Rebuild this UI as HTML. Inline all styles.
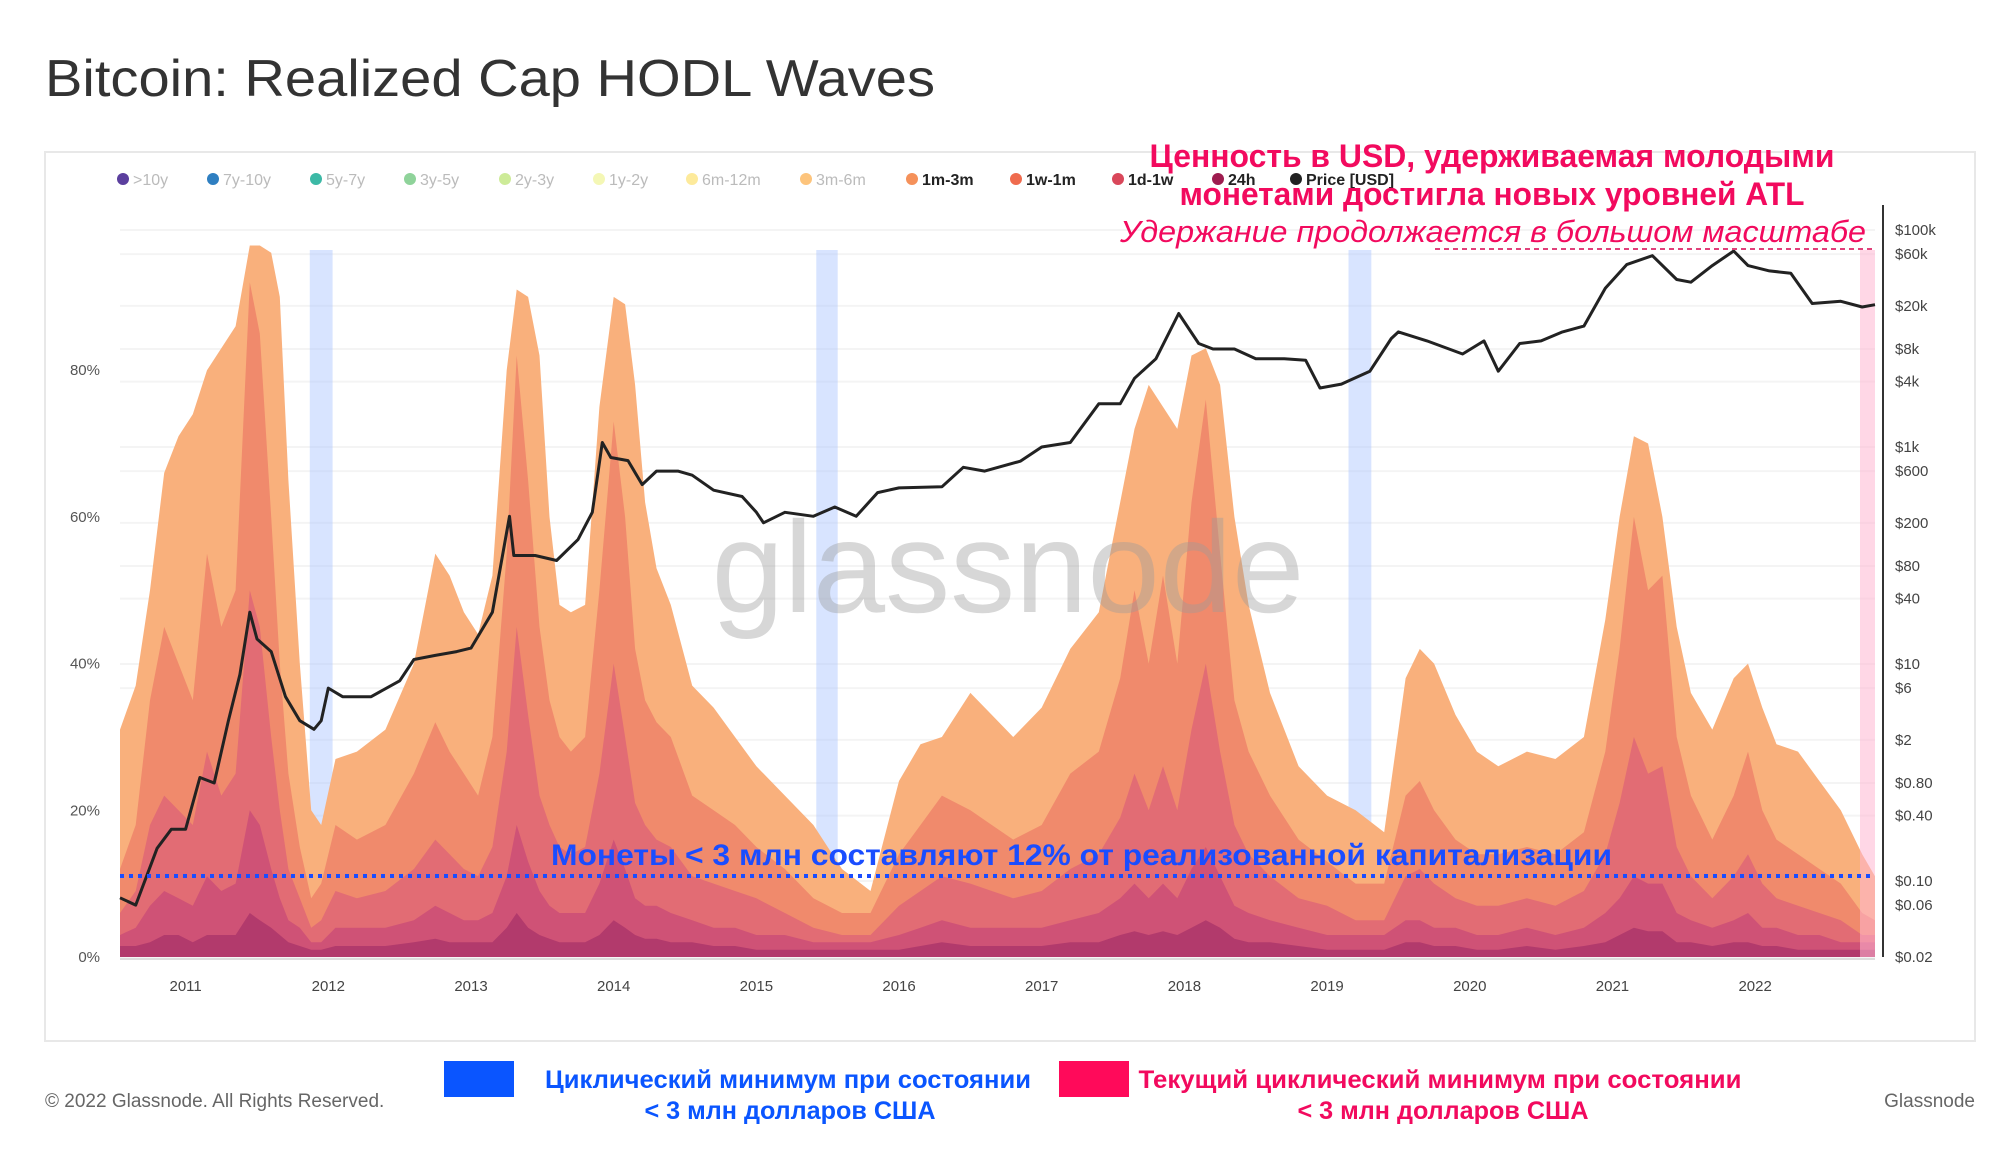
<!DOCTYPE html>
<html><head><meta charset="utf-8">
<style>
html,body{margin:0;padding:0;background:#fff;}
svg{display:block;font-family:"Liberation Sans","Noto Sans CJK SC",sans-serif;}
</style></head>
<body>
<svg id="chart" width="2000" height="1153" viewBox="0 0 2000 1153" xmlns="http://www.w3.org/2000/svg">
<rect x="0" y="0" width="2000" height="1153" fill="#fff"/>
<text x="45" y="96" font-size="52" fill="#333" textLength="890" lengthAdjust="spacingAndGlyphs">Bitcoin: Realized Cap HODL Waves</text>
<rect x="45" y="152" width="1930" height="889" fill="none" stroke="#e8e8e8" stroke-width="2"/>
<g id="grid"></g>
<g id="bands"></g>
<g id="areas"></g>
<text x="1008" y="612" font-size="130" fill="#9a9a9a" fill-opacity="0.4" text-anchor="middle">glassnode</text>
<g id="pband"></g>
<g id="priceg"></g>
<g id="axes"></g>
<g id="legend"></g>
<line x1="120" y1="876" x2="1875" y2="876" stroke="#1a4dff" stroke-width="4" stroke-dasharray="4,5"/>
<text x="551" y="865" font-size="30" font-weight="bold" fill="#1a4dff" textLength="1061" lengthAdjust="spacingAndGlyphs">Монеты &lt; 3 млн составляют 12% от реализованной капитализации</text>
<text x="1492" y="167" font-size="32" font-weight="bold" fill="#f20a5e" text-anchor="middle" textLength="685" lengthAdjust="spacingAndGlyphs">Ценность в USD, удерживаемая молодыми</text>
<text x="1492" y="205" font-size="32" font-weight="bold" fill="#f20a5e" text-anchor="middle" textLength="625" lengthAdjust="spacingAndGlyphs">монетами достигла новых уровней ATL</text>
<text x="1120" y="242" font-size="31" font-style="italic" fill="#f20a5e" textLength="746" lengthAdjust="spacingAndGlyphs">Удержание продолжается в большом масштабе</text>
<line x1="1435" y1="249" x2="1872" y2="249" stroke="#e0407a" stroke-width="2" stroke-dasharray="5,4"/>
<text x="45" y="1107" font-size="19" fill="#666">© 2022 Glassnode. All Rights Reserved.</text>
<text x="1975" y="1107" font-size="19" fill="#666" text-anchor="end">Glassnode</text>
<rect x="444" y="1061" width="70" height="36" fill="#0a55ff"/>
<text x="788" y="1088" font-size="25" font-weight="bold" fill="#0a55ff" text-anchor="middle" textLength="486" lengthAdjust="spacingAndGlyphs">Циклический минимум при состоянии</text>
<text x="790" y="1119" font-size="25" font-weight="bold" fill="#0a55ff" text-anchor="middle" textLength="291" lengthAdjust="spacingAndGlyphs">&lt; 3 млн долларов США</text>
<rect x="1059" y="1061" width="70" height="36" fill="#ff0a5a"/>
<text x="1440" y="1088" font-size="25" font-weight="bold" fill="#f20a5e" text-anchor="middle" textLength="603" lengthAdjust="spacingAndGlyphs">Текущий циклический минимум при состоянии</text>
<text x="1443" y="1119" font-size="25" font-weight="bold" fill="#f20a5e" text-anchor="middle" textLength="291" lengthAdjust="spacingAndGlyphs">&lt; 3 млн долларов США</text>
</svg>
<script>
const years = [2010.54,2010.65,2010.75,2010.85,2010.95,2011.05,2011.15,2011.25,2011.35,2011.45,
2011.52,2011.6,2011.66,2011.72,2011.8,2011.88,2011.95,2012.05,2012.2,2012.4,
2012.6,2012.75,2012.85,2012.95,2013.05,2013.15,2013.25,2013.32,2013.4,2013.48,
2013.55,2013.62,2013.7,2013.8,2013.9,2014.0,2014.08,2014.15,2014.22,2014.3,
2014.4,2014.55,2014.7,2014.85,2015.0,2015.2,2015.4,2015.6,2015.8,2016.0,
2016.15,2016.3,2016.5,2016.65,2016.8,2017.0,2017.2,2017.4,2017.55,2017.65,
2017.75,2017.85,2017.95,2018.05,2018.15,2018.25,2018.35,2018.45,2018.6,2018.8,
2019.0,2019.2,2019.4,2019.55,2019.65,2019.75,2019.9,2020.05,2020.2,2020.4,
2020.6,2020.8,2020.95,2021.05,2021.15,2021.25,2021.35,2021.45,2021.55,2021.7,
2021.85,2021.95,2022.05,2022.15,2022.3,2022.45,2022.6,2022.75,2022.84];
const cum3m6m = [31,37,50,66,71,74,80,83,86,97, 97,96,90,65,40,20,18,27,28,31, 40,55,52,47,44,52,80,91,90,82,
60,48,47,48,75,90,89,78,62,53, 48,37,34,30,26,22,18,12,9,24, 29,30,36,33,30,34,42,47,62,72,
78,75,72,82,83,78,60,48,36,26, 22,20,17,38,42,40,33,28,26,28, 27,30,46,60,71,70,60,45,36,31, 38,40,34,29,28,24,20,14,11];
const cum1m3m = [12,18,35,45,40,35,55,45,50,92, 85,60,40,25,15,8,10,18,16,18, 25,32,28,25,22,30,55,82,65,45,
35,30,28,30,50,73,60,42,35,32, 30,22,20,18,15,12,8,6,6,14, 18,22,20,18,16,18,25,28,38,50,
40,52,40,62,76,55,35,28,22,16, 13,10,10,22,24,20,16,14,14,15, 14,17,28,42,60,50,52,30,22,16, 22,28,20,16,14,12,10,6,5];
const cum1w1m = [6,9,18,22,20,18,28,22,25,50, 45,30,20,12,8,4,5,9,8,9, 12,16,14,12,11,15,28,45,33,22,
18,15,14,15,25,40,30,21,18,16, 15,11,10,9,8,6,4,3,3,7, 9,11,10,9,8,9,12,14,19,25,
20,26,20,31,40,28,18,14,11,8, 7,5,5,11,12,10,8,7,7,8, 7,9,14,21,30,25,26,15,11,8, 11,14,10,8,7,6,5,3,3];
const cum1d1w = [3,4,7,9,8,7,11,9,10,20, 18,12,8,5,4,2,2,4,4,4, 5,7,6,5,5,6,11,18,13,9,
7,6,6,6,10,16,12,8,7,7, 6,5,4,4,3,3,2,2,2,3, 4,5,4,4,4,4,5,6,8,10,
8,10,8,12,15,11,7,6,5,4, 3,3,3,5,5,4,4,3,3,4, 3,4,6,8,11,10,10,6,5,4, 5,6,4,4,3,3,2,2,2];
const cum24h = [1.5,1.5,2,3,3,2,3,3,3,6, 5,4,3,2,1.5,1,1,1.5,1.5,1.5, 2,2.5,2,2,2,2,4,6,4,3,
2.5,2,2,2,3,5,4,3,2.5,2.5, 2,2,1.5,1.5,1,1,1,1,1,1, 1.5,2,1.5,1.5,1.5,1.5,2,2,3,3.5,
3,3.5,3,4,5,4,2.5,2,2,1.5, 1,1,1,2,2,1.5,1.5,1,1,1.5, 1,1.5,2,3,4,3.5,3.5,2,2,1.5, 2,2,1.5,1.5,1,1,1,1,1];
const priceYears = [2010.54,2010.65,2010.8,2010.9,2011.0,2011.1,2011.2,2011.3,2011.38,2011.45,2011.5,2011.6,2011.7,2011.8,2011.9,2011.95,2012.0,2012.1,2012.3,2012.5,2012.6,2012.75,2012.9,2013.0,2013.15,2013.27,2013.3,2013.45,2013.6,2013.75,2013.85,2013.92,2013.98,2014.1,2014.2,2014.3,2014.45,2014.55,2014.7,2014.9,2015.0,2015.05,2015.2,2015.4,2015.55,2015.7,2015.85,2016.0,2016.3,2016.45,2016.6,2016.85,2017.0,2017.2,2017.4,2017.55,2017.65,2017.8,2017.96,2018.1,2018.2,2018.35,2018.5,2018.7,2018.85,2018.95,2019.1,2019.3,2019.45,2019.5,2019.7,2019.95,2020.1,2020.2,2020.35,2020.5,2020.65,2020.8,2020.95,2021.1,2021.28,2021.45,2021.55,2021.7,2021.85,2021.95,2022.1,2022.25,2022.4,2022.6,2022.75,2022.84];
const priceUsd = [0.07,0.06,0.2,0.3,0.3,0.9,0.8,3,8,30,17,13,5,3,2.5,3,6,5,5,7,11,12,13,14,30,230,100,100,90,140,250,1100,800,750,450,600,600,550,400,350,250,200,250,230,280,230,380,420,430,650,600,740,1000,1100,2500,2500,4300,6500,17000,9000,8000,8000,6500,6500,6300,3500,3800,5000,10000,11500,9500,7200,9500,5000,9000,9500,11500,13000,29000,48000,58000,35000,33000,47000,64000,47000,42000,40000,21000,22000,19500,20500];
const yearTicks = [2011,2012,2013,2014,2015,2016,2017,2018,2019,2020,2021,2022];
const pctTicks = [0,20,40,60,80];
const priceTicks = [100000,60000,20000,8000,4000,1000,600,200,80,40,10,6,2,0.8,0.4,0.1,0.06,0.02];
const priceTickLabels = ["$100k","$60k","$20k","$8k","$4k","$1k","$600","$200","$80","$40","$10","$6","$2","$0.80","$0.40","$0.10","$0.06","$0.02"];
const blueBandStart = [2011.87,2015.42,2019.15];
const blueBandEnd = [2012.03,2015.57,2019.31];
const legendNames = [">10y","7y-10y","5y-7y","3y-5y","2y-3y","1y-2y","6m-12m","3m-6m","1m-3m","1w-1m","1d-1w","24h","Price [USD]"];
const legendColors = ["#5b3f9e","#2f7fc1","#3cb9a6","#8fd39a","#cdeb98","#f4f7b5","#fdea9b","#fdc47c","#f5915a","#ef6b4e","#d9475a","#9e1c4f","#222"];
const legendActive = [false,false,false,false,false,false,false,false,true,true,true,true,true];

const NS = "http://www.w3.org/2000/svg";
const X0 = 120, X1 = 1875, Y0 = 957;
const yrMin = 2010.54, yrMax = 2022.84;
function xs(y){ return X0 + (y - yrMin) / (yrMax - yrMin) * (X1 - X0); }
function ys(p){ return Y0 - p * 7.335; }
function yp(v){ return 230 + (5 - Math.log10(v)) * 108.5; }
function mk(tag, attrs, parent){ const e = document.createElementNS(NS, tag); for (const k in attrs) e.setAttribute(k, attrs[k]); parent.appendChild(e); return e; }

const grid = document.getElementById('grid');
priceTicks.forEach(v => {
  const l = mk('line', {x1: X0, x2: X1, y1: yp(v), y2: yp(v), stroke: '#f4f4f4', 'stroke-width': 2}, grid);
  
  
});

const bands = document.getElementById('bands');
blueBandStart.forEach((s, i) => {
  const r = mk('rect', {x: xs(s), y: 250, width: xs(blueBandEnd[i]) - xs(s), height: Y0 - 250, fill: '#a9c4ff', 'fill-opacity': 0.45}, bands);
  
  
});

const areas = document.getElementById('areas');
const layers = [[cum3m6m,'#f9b07c','area-3m-6m'],[cum1m3m,'#f08a6c','area-1m-3m'],[cum1w1m,'#e26c74','area-1w-1m'],[cum1d1w,'#cf5276','area-1d-1w'],[cum24h,'#b23a6c','area-24h']];
layers.forEach(([arr, col, nm]) => {
  let d = 'M' + xs(years[0]) + ',' + Y0;
  arr.forEach((v, i) => { d += ' L' + xs(years[i]).toFixed(1) + ',' + ys(v).toFixed(1); });
  d += ' L' + xs(years[years.length - 1]) + ',' + Y0 + ' Z';
  const p = mk('path', {d: d, fill: col}, areas);
  
  
});

const pband = document.getElementById('pband');
const pb = mk('rect', {x: 1860, y: 250, width: 15, height: Y0 - 250, fill: '#ffb6d2', 'fill-opacity': 0.55}, pband);



const pg = document.getElementById('priceg');
const pts = priceYears.map((y, i) => xs(y).toFixed(1) + ',' + yp(priceUsd[i]).toFixed(1)).join(' ');
const pl = mk('polyline', {points: pts, fill: 'none', stroke: '#222', 'stroke-width': 3, 'stroke-linejoin': 'round'}, pg);



const axes = document.getElementById('axes');
const al = mk('line', {x1: 1883, x2: 1883, y1: 205, y2: Y0, stroke: '#333', 'stroke-width': 2}, axes);


const bl = mk('line', {x1: X0, x2: X1, y1: Y0 + 2, y2: Y0 + 2, stroke: '#ddd', 'stroke-width': 2}, axes);


yearTicks.forEach(y => {
  const t = mk('text', {x: xs(y), y: 991, 'font-size': 15, fill: '#444', 'text-anchor': 'middle'}, axes);
  t.textContent = String(y);
  
  
});
pctTicks.forEach(p => {
  const t = mk('text', {x: 100, y: ys(p) + 5, 'font-size': 15, fill: '#555', 'text-anchor': 'end'}, axes);
  t.textContent = p + '%';
  
  
});
priceTicks.forEach((v, i) => {
  const t = mk('text', {x: 1895, y: yp(v) + 5, 'font-size': 15, fill: '#444'}, axes);
  t.textContent = priceTickLabels[i];
  
  
});

const lg = document.getElementById('legend');
const legendX = [117,207,310,404,499,593,686,800,906,1010,1112,1212,1290];
legendNames.forEach((n, i) => {
  const g = mk('g', {}, lg);
  
  
  mk('circle', {cx: legendX[i] + 6, cy: 179, r: 6, fill: legendColors[i]}, g);
  const t = mk('text', {x: legendX[i] + 16, y: 185, 'font-size': 16, fill: legendActive[i] ? '#222' : '#bbb', 'font-weight': legendActive[i] ? 'bold' : 'normal'}, g);
  t.textContent = n;
});
</script>
</body></html>
